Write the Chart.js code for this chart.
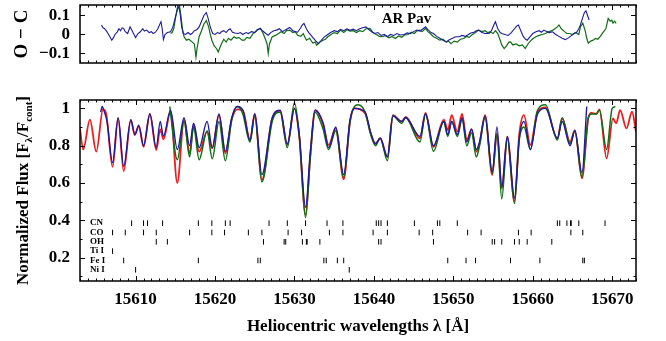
<!DOCTYPE html>
<html>
<head>
<meta charset="utf-8">
<script src="https://cdn.jsdelivr.net/npm/chart.js@4.4.0/dist/chart.umd.min.js"></script>
<style>
  body { margin: 0; background: #fff; }
  #wrap { position: relative; width: 666px; height: 341px; }
  canvas { position: absolute; left: 0; }
</style>
</head>
<body>
<div id="wrap">
  <canvas id="oc" width="666" height="80" style="top:0;width:666px;height:80px"></canvas>
  <canvas id="flux" width="666" height="261" style="top:80px;width:666px;height:261px"></canvas>
</div>
<script>
// wavelength axis
const waveMin = 15603, waveMax = 15673;
const waveTicks = [15610, 15620, 15630, 15640, 15650, 15660, 15670];
const waveTickLabels = ['15610', '15620', '15630', '15640', '15650', '15660', '15670'];

// flux axis
const fluxMin = 0.075, fluxMax = 1.045;
const fluxTicks = [0.2, 0.4, 0.6, 0.8, 1.0];
const fluxTickLabels = ['0.2', '0.4', '0.6', '0.8', '1'];
const fluxMinor = [0.1, 0.3, 0.5, 0.7, 0.9];

// residual axis
const ocMin = -0.15, ocMax = 0.155;
const ocTicks = [-0.1, 0, 0.1];
const ocTickLabels = ['\u22120.1', '0', '0.1'];

// synthetic spectrum (red)
const synth = [
  [15603.0, 0.89], [15603.4, 0.78], [15604.25, 0.94], [15605.05, 0.768], [15605.9, 0.995],
  [15606.3, 0.97], [15607.1, 0.687], [15607.8, 0.946], [15608.5, 0.664], [15609.4, 0.937],
  [15609.9, 0.857], [15610.4, 0.905], [15611.0, 0.794], [15611.8, 0.97], [15612.6, 0.777],
  [15613.1, 0.887], [15613.5, 0.834], [15614.4, 0.982], [15615.25, 0.60], [15616.1, 0.94],
  [15616.8, 0.759], [15617.3, 0.916], [15618.0, 0.768], [15619.0, 0.875], [15619.65, 0.786],
  [15620.5, 0.964], [15621.3, 0.759], [15622.1, 0.94], [15622.8, 0.995], [15623.5, 0.99],
  [15624.4, 0.83], [15625.0, 0.97], [15625.9, 0.616], [15627.2, 0.946], [15628.2, 0.987],
  [15629.1, 0.804], [15630.0, 1.0], [15630.6, 0.85], [15631.4, 0.428], [15632.0, 0.75],
  [15632.6, 0.99], [15633.6, 0.92], [15634.3, 0.804], [15635.2, 0.893], [15636.2, 0.62],
  [15637.0, 0.93], [15637.55, 1.0], [15638.9, 0.973], [15639.6, 0.866], [15640.2, 0.812],
  [15640.8, 0.84], [15641.7, 0.74], [15642.4, 0.964], [15643.5, 0.93], [15644.0, 0.955],
  [15645.8, 0.84], [15646.5, 0.976], [15647.5, 0.794], [15648.8, 0.94], [15649.3, 0.884],
  [15649.8, 0.964], [15650.5, 0.875], [15651.1, 0.97], [15651.7, 0.83], [15652.3, 0.887],
  [15652.9, 0.768], [15653.3, 0.81], [15654.0, 0.964], [15654.9, 0.643], [15655.5, 0.866],
  [15656.1, 0.571], [15656.8, 0.848], [15657.7, 0.50], [15658.3, 0.86], [15658.9, 0.964],
  [15659.7, 0.804], [15660.6, 0.982], [15661.6, 1.005], [15663.1, 0.84], [15663.7, 0.946],
  [15664.7, 0.82], [15665.3, 0.884], [15666.2, 0.625], [15667.0, 0.95], [15667.4, 0.976],
  [15668.0, 0.97], [15668.4, 0.995], [15669.3, 0.732], [15670.1, 0.946], [15670.5, 0.92],
  [15671.0, 0.99], [15671.8, 0.893], [15672.5, 0.982], [15673.0, 0.875]
];

// observed spectrum, first epoch (blue)
const obsBlue = [
  [15605.6, 0.98], [15605.8, 1.01], [15606.0, 0.99], [15606.4, 0.93], [15607.1, 0.71],
  [15607.8, 0.95], [15608.5, 0.69], [15609.4, 0.94], [15609.9, 0.86], [15610.4, 0.91],
  [15611.0, 0.80], [15611.8, 0.97], [15612.6, 0.79], [15613.1, 0.93], [15613.5, 0.85],
  [15614.4, 0.99], [15615.25, 0.78], [15616.1, 0.95], [15616.8, 0.80], [15617.3, 0.92],
  [15618.0, 0.79], [15619.0, 0.93], [15619.65, 0.79], [15620.5, 0.97], [15621.3, 0.77],
  [15622.1, 0.95], [15622.8, 1.01], [15623.5, 0.99], [15624.4, 0.83], [15625.0, 0.97],
  [15625.9, 0.645], [15627.2, 0.95], [15628.2, 0.99], [15629.1, 0.81], [15630.0, 1.0],
  [15630.6, 0.86], [15631.4, 0.47], [15632.0, 0.77], [15632.6, 0.99], [15633.6, 0.92],
  [15634.3, 0.79], [15635.2, 0.90], [15636.2, 0.645], [15637.0, 0.94], [15637.55, 1.0],
  [15638.9, 0.98], [15639.6, 0.87], [15640.2, 0.81], [15640.8, 0.84], [15641.7, 0.74],
  [15642.4, 0.96], [15643.5, 0.93], [15644.0, 0.95], [15645.8, 0.85], [15646.5, 0.97],
  [15647.5, 0.80], [15648.8, 0.93], [15649.3, 0.86], [15649.8, 0.93], [15650.5, 0.86],
  [15651.1, 0.95], [15651.7, 0.82], [15652.3, 0.89], [15652.9, 0.78], [15653.3, 0.82],
  [15654.0, 0.96], [15654.9, 0.66], [15655.5, 0.90], [15656.1, 0.58], [15656.8, 0.85],
  [15657.7, 0.52], [15658.3, 0.84], [15658.9, 0.93], [15659.7, 0.78], [15660.6, 0.97],
  [15661.6, 1.0], [15663.1, 0.84], [15663.7, 0.93], [15664.7, 0.80], [15665.3, 0.88],
  [15666.2, 0.655], [15666.8, 1.01]
];

// observed spectrum, second epoch (green)
const obsGreen = [
  [15614.3, 1.01], [15615.25, 0.725], [15616.1, 0.93], [15616.8, 0.74], [15617.3, 0.90],
  [15618.0, 0.725], [15619.0, 0.88], [15619.65, 0.73], [15620.5, 0.93], [15621.3, 0.72],
  [15622.1, 0.94], [15622.8, 1.01], [15623.5, 0.97], [15624.4, 0.82], [15625.0, 0.96],
  [15625.9, 0.606], [15627.2, 0.93], [15628.2, 0.98], [15629.1, 0.79], [15630.0, 1.03],
  [15630.6, 0.86], [15631.4, 0.415], [15632.0, 0.74], [15632.6, 0.98], [15633.6, 0.89],
  [15634.3, 0.78], [15635.2, 0.88], [15636.2, 0.63], [15637.0, 0.93], [15637.55, 1.01],
  [15638.0, 1.02], [15638.9, 0.98], [15639.6, 0.86], [15640.2, 0.80], [15640.8, 0.84],
  [15641.7, 0.72], [15642.4, 0.96], [15643.5, 0.92], [15644.0, 0.95], [15645.8, 0.82],
  [15646.5, 0.97], [15647.5, 0.77], [15648.8, 0.93], [15649.3, 0.85], [15649.8, 0.93],
  [15650.5, 0.85], [15651.1, 0.94], [15651.7, 0.80], [15652.3, 0.87], [15652.9, 0.74],
  [15653.3, 0.80], [15654.0, 0.95], [15654.9, 0.65], [15655.5, 0.86], [15656.1, 0.515],
  [15656.8, 0.84], [15657.7, 0.49], [15658.3, 0.83], [15658.9, 0.90], [15659.7, 0.78],
  [15660.6, 0.99], [15661.6, 1.02], [15663.1, 0.83], [15663.7, 0.95], [15664.7, 0.81],
  [15665.3, 0.88], [15666.2, 0.63], [15667.0, 0.95], [15667.4, 0.97], [15668.0, 0.97],
  [15668.4, 0.99], [15669.3, 0.78], [15670.0, 1.0], [15670.4, 1.01]
];

// residuals, observed minus computed
const ocBlue = [
  [15605.7, 0.050], [15605.9, 0.035], [15606.1, 0.030], [15606.4, 0.014], [15606.6, 0.000],
  [15606.8, -0.015], [15607.0, -0.030], [15607.2, -0.018], [15607.4, 0.000], [15607.7, 0.014],
  [15607.9, 0.030], [15608.1, 0.020], [15608.3, 0.035], [15608.5, 0.032], [15608.7, 0.015],
  [15609.0, 0.005], [15609.3, 0.040], [15609.5, 0.025], [15609.8, 0.000], [15610.0, -0.016],
  [15610.3, 0.005], [15610.6, 0.014], [15610.9, 0.030], [15611.1, 0.018], [15611.4, 0.023],
  [15611.7, 0.010], [15612.0, 0.015], [15612.2, 0.005], [15612.5, 0.012], [15612.8, 0.030],
  [15613.0, 0.050], [15613.2, 0.067], [15613.35, 0.030], [15613.5, -0.027], [15613.7, 0.000],
  [15614.0, 0.010], [15614.4, 0.014], [15614.7, 0.040], [15615.0, 0.090], [15615.3, 0.135],
  [15615.45, 0.147], [15615.6, 0.110], [15615.8, 0.040], [15616.0, 0.005], [15616.3, 0.000],
  [15616.6, 0.010], [15616.9, 0.000], [15617.1, 0.005], [15617.4, 0.020], [15617.7, 0.025],
  [15618.0, 0.040], [15618.3, 0.070], [15618.6, 0.100], [15618.9, 0.115], [15619.1, 0.090],
  [15619.4, 0.040], [15619.7, 0.005], [15620.0, 0.000], [15620.3, 0.010], [15620.6, 0.005],
  [15620.8, 0.014], [15621.1, 0.020], [15621.4, 0.010], [15621.7, 0.025], [15621.9, 0.030],
  [15622.2, 0.012], [15622.5, 0.008], [15622.9, 0.005], [15623.2, 0.010], [15623.5, 0.000],
  [15623.9, 0.010], [15624.2, 0.005], [15624.6, 0.015], [15625.0, 0.010], [15625.3, 0.025],
  [15625.7, 0.032], [15626.0, 0.018], [15626.4, 0.005], [15626.7, -0.004], [15627.0, 0.010],
  [15627.4, 0.020], [15627.75, 0.023], [15628.1, 0.030], [15628.5, 0.015], [15628.9, 0.025],
  [15629.4, 0.037], [15629.8, 0.020], [15630.1, 0.015], [15630.4, 0.012], [15630.7, 0.030],
  [15631.0, 0.050], [15631.2, 0.058], [15631.5, 0.030], [15631.8, 0.010], [15632.0, 0.000],
  [15632.3, -0.015], [15632.6, -0.030], [15633.0, -0.048], [15633.3, -0.035], [15633.7, -0.015],
  [15634.2, 0.000], [15634.6, 0.012], [15635.0, 0.020], [15635.4, 0.015], [15635.8, 0.027],
  [15636.2, 0.020], [15636.6, 0.030], [15637.0, 0.022], [15637.4, 0.028], [15637.8, 0.020],
  [15638.2, 0.030], [15638.6, 0.035], [15639.0, 0.040], [15639.4, 0.025], [15639.8, 0.012],
  [15640.1, 0.005], [15640.5, 0.010], [15640.9, -0.005], [15641.3, 0.000], [15641.7, -0.012],
  [15642.1, 0.000], [15642.5, -0.005], [15642.9, 0.005], [15643.3, -0.003], [15643.8, 0.000],
  [15644.2, 0.008], [15644.6, 0.004], [15645.0, 0.015], [15645.4, 0.023], [15645.8, 0.018],
  [15646.2, 0.030], [15646.5, 0.040], [15646.8, 0.025], [15647.2, 0.010], [15647.5, 0.005],
  [15647.9, -0.010], [15648.3, -0.020], [15648.7, -0.030], [15649.1, -0.039], [15649.5, -0.028],
  [15649.9, -0.020], [15650.3, -0.012], [15650.75, -0.012], [15651.1, -0.005], [15651.5, -0.010],
  [15651.8, -0.003], [15652.2, 0.008], [15652.6, 0.012], [15652.9, 0.020], [15653.2, 0.023],
  [15653.6, 0.010], [15654.0, 0.005], [15654.5, 0.005], [15654.8, 0.020], [15655.1, 0.050],
  [15655.3, 0.067], [15655.6, 0.030], [15655.9, 0.010], [15656.1, 0.005], [15656.5, 0.000],
  [15656.9, -0.005], [15657.3, 0.010], [15657.7, 0.030], [15658.0, 0.045], [15658.2, 0.050],
  [15658.5, 0.020], [15658.8, -0.010], [15659.1, -0.025], [15659.3, -0.030], [15659.7, -0.010],
  [15660.0, 0.005], [15660.4, 0.014], [15660.8, 0.020], [15661.1, 0.012], [15661.4, 0.023],
  [15661.8, 0.015], [15662.1, 0.010], [15662.5, 0.014], [15662.9, 0.000], [15663.3, -0.010],
  [15663.7, -0.020], [15664.1, -0.027], [15664.5, -0.018], [15664.9, -0.005], [15665.2, 0.005],
  [15665.5, 0.010], [15665.8, 0.030], [15666.0, 0.050], [15666.3, 0.090], [15666.5, 0.115],
  [15666.7, 0.124], [15666.9, 0.100], [15667.1, 0.076]
];

const ocGreen = [
  [15614.4, 0.005], [15614.6, 0.010], [15614.8, 0.030], [15615.0, 0.080], [15615.2, 0.130],
  [15615.35, 0.160], [15615.5, 0.160], [15615.7, 0.100], [15615.9, 0.030], [15616.1, -0.012],
  [15616.4, -0.030], [15616.7, -0.025], [15617.1, -0.039], [15617.4, -0.050], [15617.6, -0.119],
  [15617.75, -0.070], [15618.0, -0.012], [15618.3, 0.020], [15618.6, 0.055], [15618.9, 0.073],
  [15619.2, 0.040], [15619.4, 0.000], [15619.6, -0.030], [15619.9, -0.060], [15620.2, -0.075],
  [15620.4, -0.092], [15620.6, -0.070], [15620.8, -0.050], [15621.1, -0.025], [15621.4, -0.040],
  [15621.7, -0.020], [15622.0, -0.030], [15622.4, -0.012], [15622.7, -0.020], [15623.0, -0.015],
  [15623.4, -0.030], [15623.7, -0.030], [15624.0, -0.015], [15624.4, -0.020], [15624.8, 0.005],
  [15625.1, 0.014], [15625.4, 0.025], [15625.7, 0.032], [15626.0, 0.010], [15626.3, -0.020],
  [15626.55, -0.050], [15626.7, -0.100], [15626.85, -0.050], [15627.2, -0.012], [15627.6, -0.005],
  [15628.0, 0.005], [15628.3, 0.014], [15628.7, 0.005], [15629.0, 0.020], [15629.4, 0.023],
  [15629.8, 0.010], [15630.1, 0.015], [15630.4, -0.004], [15630.8, -0.010], [15631.1, 0.005],
  [15631.5, -0.030], [15631.9, -0.020], [15632.3, -0.045], [15632.6, -0.040], [15632.8, -0.057],
  [15633.2, -0.040], [15633.6, -0.030], [15633.9, -0.025], [15634.2, -0.012], [15634.6, 0.000],
  [15635.0, 0.010], [15635.4, 0.005], [15635.8, 0.023], [15636.2, 0.010], [15636.6, 0.025],
  [15637.0, 0.018], [15637.4, 0.020], [15637.8, 0.010], [15638.2, 0.020], [15638.6, 0.015],
  [15639.0, 0.030], [15639.5, 0.032], [15639.9, 0.010], [15640.3, 0.000], [15640.7, -0.010],
  [15641.1, -0.012], [15641.5, -0.005], [15641.9, -0.018], [15642.3, -0.010], [15642.7, -0.021],
  [15643.1, -0.008], [15643.5, -0.015], [15643.9, -0.002], [15644.3, 0.000], [15644.7, 0.012],
  [15645.1, 0.005], [15645.4, 0.018], [15645.7, 0.023], [15646.1, 0.015], [15646.5, 0.032],
  [15646.8, 0.015], [15647.1, 0.005], [15647.5, -0.012], [15647.9, -0.020], [15648.3, -0.030],
  [15648.7, -0.025], [15649.1, -0.040], [15649.4, -0.035], [15649.7, -0.048], [15650.1, -0.035],
  [15650.5, -0.040], [15650.9, -0.025], [15651.3, -0.021], [15651.7, -0.010], [15652.0, -0.015],
  [15652.4, 0.000], [15652.8, 0.010], [15653.2, 0.023], [15653.6, 0.015], [15654.0, 0.020],
  [15654.3, 0.010], [15654.6, 0.014], [15655.0, 0.005], [15655.3, 0.020], [15655.6, 0.005],
  [15655.9, -0.030], [15656.1, -0.055], [15656.4, -0.074], [15656.7, -0.060], [15657.0, -0.040],
  [15657.2, -0.039], [15657.5, -0.055], [15657.9, -0.050], [15658.3, -0.060], [15658.7, -0.055],
  [15659.05, -0.074], [15659.4, -0.050], [15659.8, -0.030], [15660.1, -0.020], [15660.4, -0.012],
  [15660.8, -0.005], [15661.2, 0.000], [15661.6, 0.005], [15662.0, 0.014], [15662.4, 0.020],
  [15662.8, 0.030], [15663.1, 0.040], [15663.3, 0.050], [15663.6, 0.030], [15664.0, 0.015],
  [15664.3, 0.005], [15664.65, 0.005], [15665.0, 0.000], [15665.4, 0.010], [15665.8, 0.000],
  [15666.0, 0.040], [15666.3, 0.060], [15666.6, 0.020], [15666.8, -0.020], [15667.0, -0.046],
  [15667.3, -0.035], [15667.6, -0.030], [15667.9, -0.021], [15668.2, -0.025], [15668.5, -0.010],
  [15668.9, 0.014], [15669.2, 0.030], [15669.5, 0.084], [15669.75, 0.070], [15669.95, 0.075],
  [15670.1, 0.060], [15670.3, 0.070], [15670.5, 0.058]
];

// line identifications
const species = ['CN', 'CO', 'OH', 'Ti I', 'Fe I', 'Ni I'];
const speciesLevel = [0.385, 0.335, 0.285, 0.235, 0.185, 0.135];
const cnLines = [15609.5, 15611.0, 15611.5, 15613.4, 15617.9, 15619.6, 15621.3, 15621.9, 15626.8,
  15629.1, 15631.4, 15634.1, 15636.1, 15640.3, 15640.6, 15640.9, 15641.7, 15645.1, 15648.0,
  15648.3, 15650.5, 15663.1, 15663.4, 15664.3, 15664.75, 15664.85, 15665.8, 15669.1];
const coLines = [15607.1, 15608.7, 15611.0, 15612.6, 15616.8, 15619.6, 15621.2, 15624.2, 15625.9,
  15629.2, 15630.9, 15634.4, 15636.1, 15639.9, 15641.7, 15645.7, 15647.4, 15651.8, 15653.5,
  15658.2, 15659.8, 15664.8, 15666.3];
const ohLines = [15612.6, 15614.0, 15626.1, 15628.7, 15628.9, 15631.0, 15631.5, 15631.6, 15633.2,
  15640.6, 15640.9, 15647.5, 15654.9, 15655.2, 15656.1, 15657.7, 15658.3, 15659.3, 15662.4];
const tiLines = [15607.1];
const feLines = [15608.5, 15617.9, 15625.4, 15625.7, 15633.7, 15634.0, 15635.4, 15636.2, 15649.3,
  15651.6, 15652.8, 15657.2, 15660.9, 15666.3, 15666.5];
const niLines = [15610.0, 15636.9];
const speciesLines = [cnLines, coLines, ohLines, tiLines, feLines, niLines];

const SERIF = "'Liberation Serif', 'Times New Roman', serif";
Chart.defaults.color = '#000';
Chart.defaults.font.family = SERIF;

const toXY = arr => arr.map(p => ({ x: p[0], y: p[1] }));

// keep the plot boxes where we put them: no label overhang padding
const fixWidth = w => s => { s.width = w; s.paddingTop = 0; s.paddingBottom = 0; };
const fixHeight = h => s => { s.height = h; s.paddingLeft = 0; s.paddingRight = 0; };

// box with inward ticks on all four sides
const frameTicks = {
  id: 'frameTicks',
  afterDatasetsDraw(chart, args, opts) {
    const { ctx, chartArea: a, scales: { x, y } } = chart;
    ctx.save();
    ctx.strokeStyle = '#000';
    ctx.lineWidth = 1;
    ctx.beginPath();
    for (let w = Math.ceil(x.min); w <= x.max; w++) {
      const px = Math.round(x.getPixelForValue(w)) + 0.5;
      const len = w % 10 === 0 ? 5 : 2.5;
      ctx.moveTo(px, a.bottom); ctx.lineTo(px, a.bottom - len);
      ctx.moveTo(px, a.top); ctx.lineTo(px, a.top + len);
    }
    const yTick = (v, len) => {
      const py = Math.round(y.getPixelForValue(v)) + 0.5;
      ctx.moveTo(a.left, py); ctx.lineTo(a.left + len, py);
      ctx.moveTo(a.right, py); ctx.lineTo(a.right - len, py);
    };
    opts.major.forEach(v => yTick(v, 5));
    (opts.minor || []).forEach(v => yTick(v, 2.5));
    ctx.stroke();
    ctx.lineWidth = 1.5;
    ctx.strokeRect(a.left, a.top, a.right - a.left, a.bottom - a.top);
    ctx.restore();
  }
};

// axis titles and in-panel text
const annotate = {
  id: 'annotate',
  afterDraw(chart, args, opts) {
    const { ctx, chartArea: a, scales: { x, y } } = chart;
    ctx.save();
    ctx.fillStyle = '#000';
    if (opts.yTitle) {
      // rotated title, pieces may be subscripts
      const cy = (a.top + a.bottom) / 2;
      ctx.translate(opts.yTitleX, cy);
      ctx.rotate(-Math.PI / 2);
      ctx.textBaseline = 'middle';
      const big = 'bold ' + opts.yTitleSize + 'px ' + SERIF, small = 'bold 11px ' + SERIF;
      let total = 0;
      opts.yTitle.forEach(p => { ctx.font = p.sub ? small : big; total += ctx.measureText(p.t).width; });
      let cx = -total / 2;
      opts.yTitle.forEach(p => {
        ctx.font = p.sub ? small : big;
        ctx.fillText(p.t, cx, p.sub ? 5 : 0);
        cx += ctx.measureText(p.t).width;
      });
      ctx.setTransform(1, 0, 0, 1, 0, 0);
    }
    if (opts.xTitle) {
      ctx.font = 'bold 17px ' + SERIF;
      ctx.textAlign = 'center';
      ctx.textBaseline = 'middle';
      ctx.fillText(opts.xTitle, (a.left + a.right) / 2, a.bottom + 46);
    }
    if (opts.star) {
      ctx.font = 'bold 15px ' + SERIF;
      ctx.textAlign = 'center';
      ctx.textBaseline = 'middle';
      ctx.fillText(opts.star, x.getPixelForValue(15644.1), y.getPixelForValue(0.08));
    }
    if (opts.rows) {
      ctx.font = 'bold 9px ' + SERIF;
      ctx.textAlign = 'left';
      ctx.textBaseline = 'middle';
      species.forEach((s, i) => ctx.fillText(s, a.left + 10, y.getPixelForValue(speciesLevel[i])));
    }
    ctx.restore();
  }
};

const tickFont = { family: SERIF, size: 17, weight: 'bold' };

// residual panel
new Chart(document.getElementById('oc'), {
  type: 'line',
  data: {
    datasets: [
      { data: toXY(ocBlue), borderColor: '#1c1c9c', borderWidth: 1.1, pointRadius: 0, tension: 0 },
      { data: toXY(ocGreen), borderColor: '#0d6e12', borderWidth: 1.2, pointRadius: 0, tension: 0 }
    ]
  },
  options: {
    responsive: false,
    animation: false,
    layout: { padding: { top: 5, right: 30, left: 0, bottom: 0 } },
    plugins: {
      legend: { display: false },
      tooltip: { enabled: false },
      frameTicks: { major: ocTicks },
      annotate: {
        yTitle: [{ t: 'O \u2212 C' }], yTitleX: 22, yTitleSize: 19,
        star: 'AR Pav'
      }
    },
    scales: {
      x: {
        type: 'linear', min: waveMin, max: waveMax,
        grid: { display: false, drawTicks: false }, border: { display: false },
        ticks: { display: false },
        afterFit: fixHeight(17)
      },
      y: {
        min: ocMin, max: ocMax,
        grid: { display: false, drawTicks: false }, border: { display: false },
        afterBuildTicks: s => { s.ticks = ocTicks.map(v => ({ value: v })); },
        ticks: { font: tickFont, padding: 10, callback: (v, i) => ocTickLabels[i] },
        afterFit: fixWidth(80)
      }
    }
  },
  plugins: [frameTicks, annotate]
});

// spectrum panel
const lineMarks = speciesLines.map((list, i) => ({
  type: 'scatter',
  data: list.map(w => ({ x: w, y: speciesLevel[i] })),
  pointStyle: 'line',
  rotation: 90,
  radius: 2.8,
  pointBorderColor: '#000',
  borderColor: '#000',
  borderWidth: 1,
  pointBorderWidth: 1,
  showLine: false
}));

new Chart(document.getElementById('flux'), {
  type: 'line',
  data: {
    datasets: [
      { data: toXY(obsBlue), borderColor: '#1c1c9c', borderWidth: 1.4, pointRadius: 0, cubicInterpolationMode: 'monotone' },
      { data: toXY(obsGreen), borderColor: '#0d6e12', borderWidth: 1.5, pointRadius: 0, cubicInterpolationMode: 'monotone' },
      { data: toXY(synth), borderColor: '#f21a1a', borderWidth: 1.8, pointRadius: 0, cubicInterpolationMode: 'monotone' },
      ...lineMarks
    ]
  },
  options: {
    responsive: false,
    animation: false,
    layout: { padding: { top: 20, right: 30, left: 0, bottom: 0 } },
    plugins: {
      legend: { display: false },
      tooltip: { enabled: false },
      frameTicks: { major: fluxTicks, minor: fluxMinor },
      annotate: {
        yTitle: [
          { t: 'Normalized Flux [F' }, { t: '\u03bb', sub: true },
          { t: '/F' }, { t: 'cont', sub: true }, { t: ']' }
        ],
        yTitleX: 24, yTitleSize: 17,
        xTitle: 'Heliocentric wavelengths \u03bb [\u00c5]',
        rows: true
      }
    },
    scales: {
      x: {
        type: 'linear', min: waveMin, max: waveMax,
        grid: { display: false, drawTicks: false }, border: { display: false },
        afterBuildTicks: s => { s.ticks = waveTicks.map(v => ({ value: v })); },
        ticks: { font: tickFont, padding: 8, maxRotation: 0, autoSkip: false, callback: (v, i) => waveTickLabels[i] },
        afterFit: fixHeight(60)
      },
      y: {
        min: fluxMin, max: fluxMax,
        grid: { display: false, drawTicks: false }, border: { display: false },
        afterBuildTicks: s => { s.ticks = fluxTicks.map(v => ({ value: v })); },
        ticks: { font: tickFont, padding: 10, callback: (v, i) => fluxTickLabels[i] },
        afterFit: fixWidth(80)
      }
    }
  },
  plugins: [frameTicks, annotate]
});
</script>
</body>
</html>
